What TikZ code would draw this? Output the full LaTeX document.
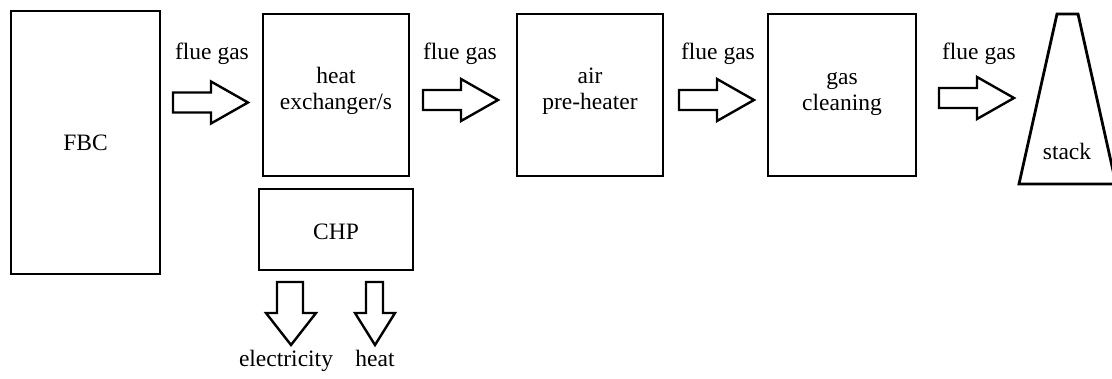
\documentclass[tikz,border=0pt]{standalone}
\usepackage{fontspec}
\setmainfont{Liberation Serif}
\newcommand{\rblk}[3]{% name, x0, yc
  \draw[blk] (#2,#3-10) -- (#2+38,#3-10) -- (#2+38,#3-21) -- (#2+75,#3) -- (#2+38,#3+21) -- (#2+38,#3+10) -- (#2,#3+10) -- cycle;
  \coordinate (#1) at (#2+37,#3);}
\begin{document}
\begin{tikzpicture}[x=1pt,y=-1pt,
  box/.style={draw,line width=2.8pt,inner sep=0pt},
  lbl/.style={font=\fontsize{23.5}{26.5}\selectfont,align=center,inner sep=0pt,anchor=base},
  blk/.style={draw,line width=2.4pt,line join=miter,fill=white}]
\useasboundingbox (0,0) rectangle (1112,379);
% boxes
\node[box,minimum width=149pt,minimum height=263pt] (fbc) at (85.5,142.5) {};
\node[box,minimum width=146pt,minimum height=162pt] (hx) at (336,95) {};
\node[box,minimum width=154pt,minimum height=81pt] (chp) at (336,229.5) {};
\node[box,minimum width=146pt,minimum height=162pt] (aph) at (590,95) {};
\node[box,minimum width=148pt,minimum height=162pt] (gc) at (842,95) {};
\draw[line width=2.8pt,line join=miter] (1057,14) coordinate (stktop) -- (1078,14) -- (1116,184) -- (1019,184) -- cycle;
% labels
\node[lbl] (tfbc) at (85.5,151) {FBC};
\node[lbl] (thx) at (336,110) {heat\\exchanger/s};
\node[lbl] (tchp) at (336,240) {CHP};
\node[lbl] (taph) at (590,110) {air\\pre-heater};
\node[lbl] (tgc) at (842,111) {gas\\cleaning};
\node[lbl] (tstk) at (1067,160) {stack};
% flue gas arrows
\rblk{a1}{173}{102.5}
\rblk{a2}{423}{100}
\rblk{a3}{679}{100}
\rblk{a4}{939}{98}
\node[lbl] (f1) at (212,60) {flue gas};
\node[lbl] (f2) at (460,60) {flue gas};
\node[lbl] (f3) at (718,60) {flue gas};
\node[lbl] (f4) at (979,60) {flue gas};
% output arrows
\draw[blk] (277,282) -- (303,282) -- (303,313) -- (316,313) -- (291,345) -- (266,313) -- (277,313) -- cycle;
\draw[blk] (366,282) -- (383,282) -- (383,313) -- (395,313) -- (375,345) -- (355,313) -- (366,313) -- cycle;
\node[lbl] (te) at (286,367) {electricity};
\node[lbl] (th) at (375,367) {heat};
\end{tikzpicture}
\end{document}
